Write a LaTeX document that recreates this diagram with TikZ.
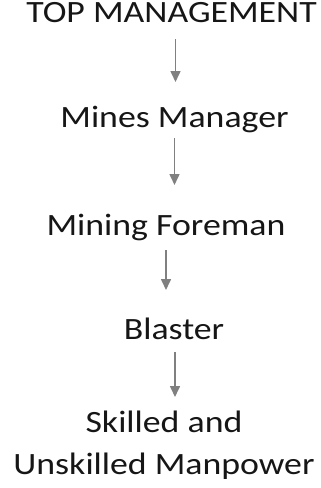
\documentclass[tikz,border=0pt]{standalone}
\usepackage{fontspec}
\setmainfont{Carlito}[FakeStretch=1.155]
\usetikzlibrary{arrows.meta}
\definecolor{linkgray}{RGB}{128,128,128}
\definecolor{ink}{RGB}{22,22,22}

\begin{document}
\begin{tikzpicture}[x=1pt, y=1pt, >={Triangle[length=11pt,width=10pt]},
    level/.style={anchor=base, text=ink, inner sep=0pt, align=center,
      font=\fontsize{31}{42}\selectfont},
    link/.style={->, draw=linkgray, fill=linkgray, line width=1.6pt}]
        \useasboundingbox (0,0) rectangle (321,-488);
        \node[level] (top) at (171.5,-22) {TOP MANAGEMENT};
        \node[level] (mgr) at (174.5,-127) {Mines Manager};
        \node[level] (foreman) at (166,-235) {Mining Foreman};
        \node[level] (blaster) at (174,-339) {Blaster};
        \node[level] (crew) at (164,-474) {Skilled and\\Unskilled Manpower};
        \draw[link, shorten >=45pt] ([xshift=4pt,yshift=-17pt]top.base) -- ([xshift=4pt]top.base |- mgr.base);
        \draw[link, shorten >=50pt] ([yshift=-11pt]mgr.base) -- (mgr.base |- foreman.base);
        \draw[link, shorten >=49pt] ([yshift=-15pt]foreman.base) -- (foreman.base |- blaster.base);
        \draw[link, shorten >=77pt] ([xshift=1pt,yshift=-13pt]blaster.base) -- ([xshift=1pt]blaster.base |- crew.base);
      \end{tikzpicture}
\end{document}
